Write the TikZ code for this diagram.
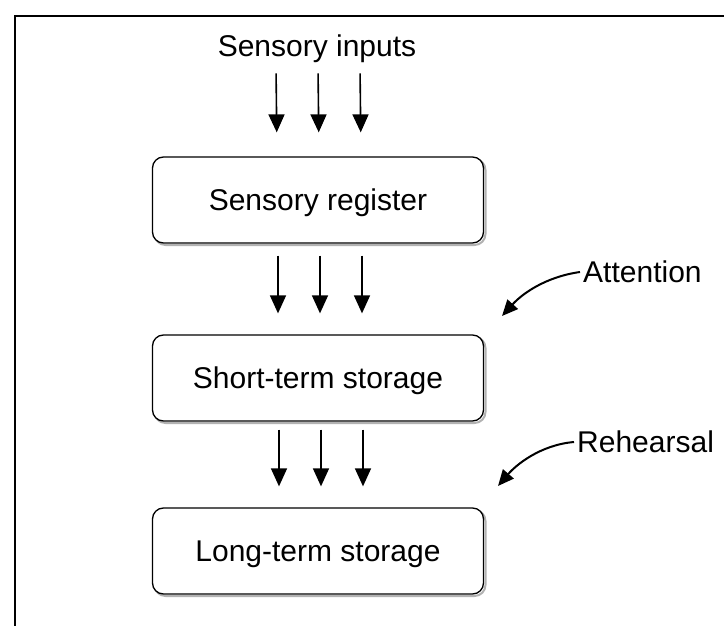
\documentclass[tikz,border=0pt]{standalone}
\usepackage{fontspec}
\setmainfont{Liberation Sans}
\usetikzlibrary{positioning, arrows.meta, calc, shadows}

\tikzset{
    stage/.style={draw, fill=white, rounded corners=11pt, line width=1.3pt,
        minimum width=331pt, minimum height=86pt, font=\fontsize{30}{36}\selectfont,
        text depth=0pt,
        general shadow={shadow xshift=2pt, shadow yshift=-2pt, draw=black!30, line width=2pt}},
    caption/.style={font=\fontsize{30}{36}\selectfont, inner sep=3pt},
    flow/.style={-{Triangle[width=16pt,length=18pt]}, line width=1.6pt},
    cue/.style={-{Triangle[width=14pt,length=16pt]}, line width=2pt},
}

\begin{document}
\begin{tikzpicture}[x=1pt, y=-1pt]
    \useasboundingbox (0,0) rectangle (724,626);

    % frame
    \draw[line width=1.3pt] (724,16) -- (15,16) -- (15,626);

    % stages
    \node[caption, anchor=base] (inputs) at (317,57) {Sensory inputs};
    \node[stage] (reg) at (318,200) {Sensory register};
    \node[stage] (stm) at (318,378) {Short-term storage};
    \node[stage] (ltm) at (318,551) {Long-term storage};

    % three arrows between each pair
    \foreach \from/\to/\gapa/\gapb/\sh in {
        inputs/reg/7/24/0,
        reg/stm/12/21/1,
        stm/ltm/8/21/2}
    {
        \foreach \dx in {-41,1,43}
        {
            \draw[flow, shorten <=\gapa pt, shorten >=\gapb pt]
                ([xshift=\dx pt+\sh pt]\from.south) -- ([xshift=\dx pt+\sh pt]\to.north);
        }
    }

    % side labels
    \node[caption, anchor=west] (attn) at (580,272) {Attention};
    \node[caption, anchor=west] (reh) at (574,442) {Rehearsal};

    \coordinate (attnTip) at (502,316);
    \coordinate (rehTip) at (498,486);

    \draw[cue] (attn.west) .. controls (545,277) and (522,294) .. (attnTip);
    \draw[cue] (reh.west) .. controls (540,445) and (516,465) .. (rehTip);
\end{tikzpicture}
\end{document}
